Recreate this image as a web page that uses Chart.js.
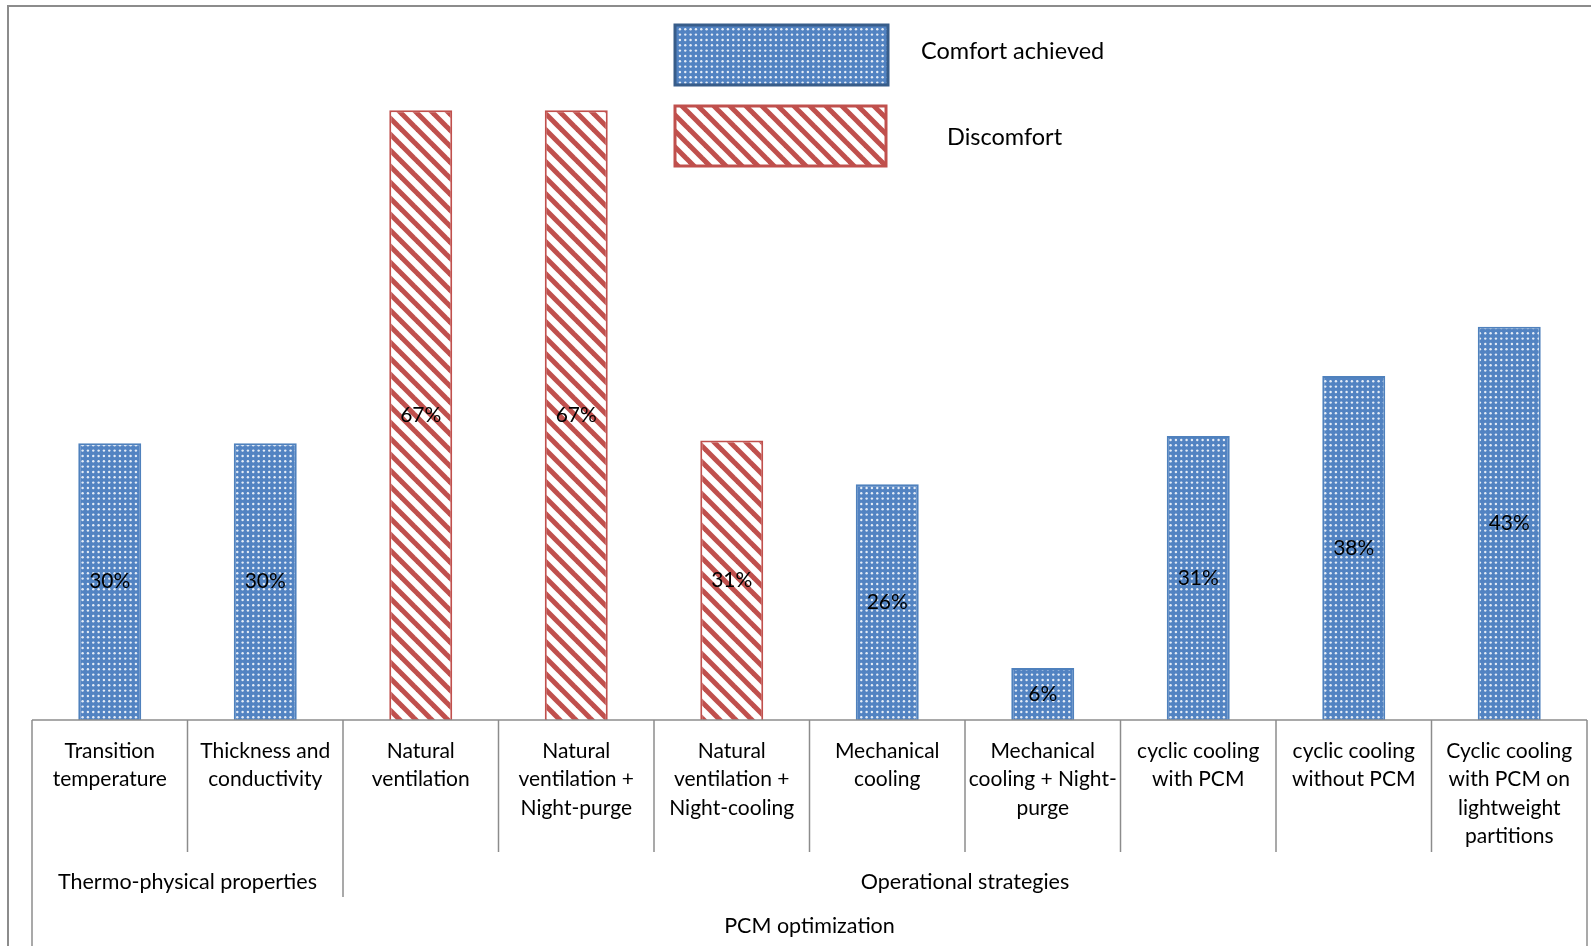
<!DOCTYPE html>
<html>
<head>
<meta charset="utf-8">
<script src="https://cdn.jsdelivr.net/npm/chart.js@4"></script>
<style>
  html, body { margin: 0; padding: 0; background: #fff; }
  #wrap { position: relative; width: 1591px; height: 946px; overflow: hidden; }
  #frame { position: absolute; left: 7px; top: 5px; width: 1700px; height: 1100px;
           border-left: 2px solid #8c8c8c; border-top: 2px solid #8c8c8c; }
  canvas { position: absolute; left: 0; top: 0; }
</style>
</head>
<body>
<div id="wrap">
  <div id="frame"></div>
  <canvas id="chart" width="1591" height="946"></canvas>
</div>
<script>
// data
const categories = [
  ['Transition', 'temperature'],
  ['Thickness and', 'conductivity'],
  ['Natural', 'ventilation'],
  ['Natural', 'ventilation +', 'Night-purge'],
  ['Natural', 'ventilation +', 'Night-cooling'],
  ['Mechanical', 'cooling'],
  ['Mechanical', 'cooling + Night-', 'purge'],
  ['cyclic cooling', 'with PCM'],
  ['cyclic cooling', 'without PCM'],
  ['Cyclic cooling', 'with PCM on', 'lightweight', 'partitions']
];
const groupLabels = ['Thermo-physical properties', 'Operational strategies'];
const groupSizes = [2, 8];
const topLabel = 'PCM optimization';
const seriesNames = ['Comfort achieved', 'Discomfort'];
const comfortValues = [30.4, 30.4, null, null, null, 25.9, 5.7, 31.2, 37.8, 43.2];
const discomfortValues = [null, null, 67, 67, 30.7, null, null, null, null, null];

const FONT = '21px Lato';
const LEGEND_FONT = '23.5px Lato';
const LINE = '#8c8c8c';

// fill patterns
function dotPattern() {
  const c = document.createElement('canvas');
  c.width = 16; c.height = 16;
  const g = c.getContext('2d');
  g.fillStyle = '#5283c2';
  g.fillRect(0, 0, 16, 16);
  g.fillStyle = 'rgba(255,255,255,0.85)';
  for (let i = 0; i < 3; i++) {
    for (let j = 0; j < 3; j++) {
      g.beginPath();
      g.arc(2.6 + i * 16 / 3, 2.6 + j * 16 / 3, 1.2, 0, Math.PI * 2);
      g.fill();
    }
  }
  return g.createPattern(c, 'repeat');
}

function stripePattern() {
  const c = document.createElement('canvas');
  c.width = 16; c.height = 16;
  const g = c.getContext('2d');
  g.fillStyle = '#fff';
  g.fillRect(0, 0, 16, 16);
  g.strokeStyle = '#c0504d';
  g.lineWidth = 5;
  for (const o of [-16, 0, 16]) {
    g.beginPath();
    g.moveTo(o - 2, -2);
    g.lineTo(o + 18, 18);
    g.stroke();
  }
  return g.createPattern(c, 'repeat');
}

const blueFill = dotPattern();
const redFill = stripePattern();

// labels, multi-level axis and legend
const decorations = {
  id: 'decorations',
  afterDatasetsDraw(chart) {
    const ctx = chart.ctx;
    ctx.save();
    ctx.font = FONT;
    ctx.fillStyle = '#000';
    ctx.textAlign = 'center';
    ctx.textBaseline = 'middle';
    chart.data.datasets.forEach((ds, i) => {
      chart.getDatasetMeta(i).data.forEach((bar, j) => {
        const v = ds.data[j];
        if (v == null) return;
        ctx.fillText(Math.round(v) + '%', bar.x, (bar.y + bar.base) / 2);
      });
    });
    ctx.restore();
  },
  afterDraw(chart) {
    const ctx = chart.ctx;
    const x = chart.scales.x;
    const area = chart.chartArea;
    const bottom = area.bottom;
    const n = categories.length;
    const cw = (area.right - area.left) / n;
    const edge = i => area.left + i * cw;

    ctx.save();
    ctx.strokeStyle = LINE;
    ctx.lineWidth = 1.5;
    const vline = (px, y2) => {
      ctx.beginPath();
      ctx.moveTo(px, bottom);
      ctx.lineTo(px, y2);
      ctx.stroke();
    };
    // axis line
    ctx.beginPath();
    ctx.moveTo(area.left, bottom);
    ctx.lineTo(area.right, bottom);
    ctx.stroke();

    // separators
    const groupEdges = [0];
    groupSizes.forEach(s => groupEdges.push(groupEdges[groupEdges.length - 1] + s));
    for (let i = 0; i <= n; i++) {
      if (i === 0 || i === n) vline(edge(i), chart.height);
      else if (groupEdges.includes(i)) vline(edge(i), bottom + 177);
      else vline(edge(i), bottom + 132);
    }

    ctx.font = FONT;
    ctx.fillStyle = '#000';
    ctx.textAlign = 'center';
    ctx.textBaseline = 'middle';
    categories.forEach((lines, i) => {
      const cx = x.getPixelForValue(i);
      lines.forEach((t, k) => ctx.fillText(t, cx, bottom + 31 + k * 28.5));
    });
    ctx.font = '21.5px Lato';
    groupLabels.forEach((t, g) => {
      const cx = (edge(groupEdges[g]) + edge(groupEdges[g + 1])) / 2;
      ctx.fillText(t, cx, bottom + 162);
    });
    ctx.fillText(topLabel, (area.left + area.right) / 2, bottom + 206);

    // legend
    const items = [
      { x: 675, y: 25, w: 213, h: 60, tx: 921, ty: 51, border: '#385d8a' },
      { x: 675, y: 106, w: 211, h: 60, tx: 947, ty: 137, border: '#c0504d' }
    ];
    ctx.font = LEGEND_FONT;
    items.forEach((it, i) => {
      const ds = chart.data.datasets[i];
      ctx.fillStyle = ds.backgroundColor;
      ctx.fillRect(it.x, it.y, it.w, it.h);
      ctx.strokeStyle = it.border;
      ctx.lineWidth = 3;
      ctx.strokeRect(it.x, it.y, it.w, it.h);
      ctx.fillStyle = '#000';
      ctx.textAlign = 'left';
      ctx.fillText(ds.label, it.tx, it.ty);
    });
    ctx.restore();
  }
};

new Chart(document.getElementById('chart'), {
  type: 'bar',
  data: {
    labels: categories.map(c => c.join(' ')),
    datasets: [
      {
        label: seriesNames[0],
        data: comfortValues,
        backgroundColor: blueFill,
        borderColor: '#4f81bd',
        borderWidth: 2,
        borderSkipped: 'bottom'
      },
      {
        label: seriesNames[1],
        data: discomfortValues,
        backgroundColor: redFill,
        borderColor: '#c0504d',
        borderWidth: 2,
        borderSkipped: 'bottom'
      }
    ]
  },
  options: {
    responsive: false,
    animation: false,
    devicePixelRatio: 1,
    layout: { padding: { left: 32, right: 4, top: 10, bottom: 226 } },
    datasets: { bar: { categoryPercentage: 1, barPercentage: 0.405 } },
    plugins: {
      legend: { display: false },
      tooltip: { enabled: false }
    },
    scales: {
      x: { display: false, stacked: true },
      y: { display: false, stacked: true, min: 0, max: 78 }
    }
  },
  plugins: [decorations]
});
</script>
</body>
</html>
